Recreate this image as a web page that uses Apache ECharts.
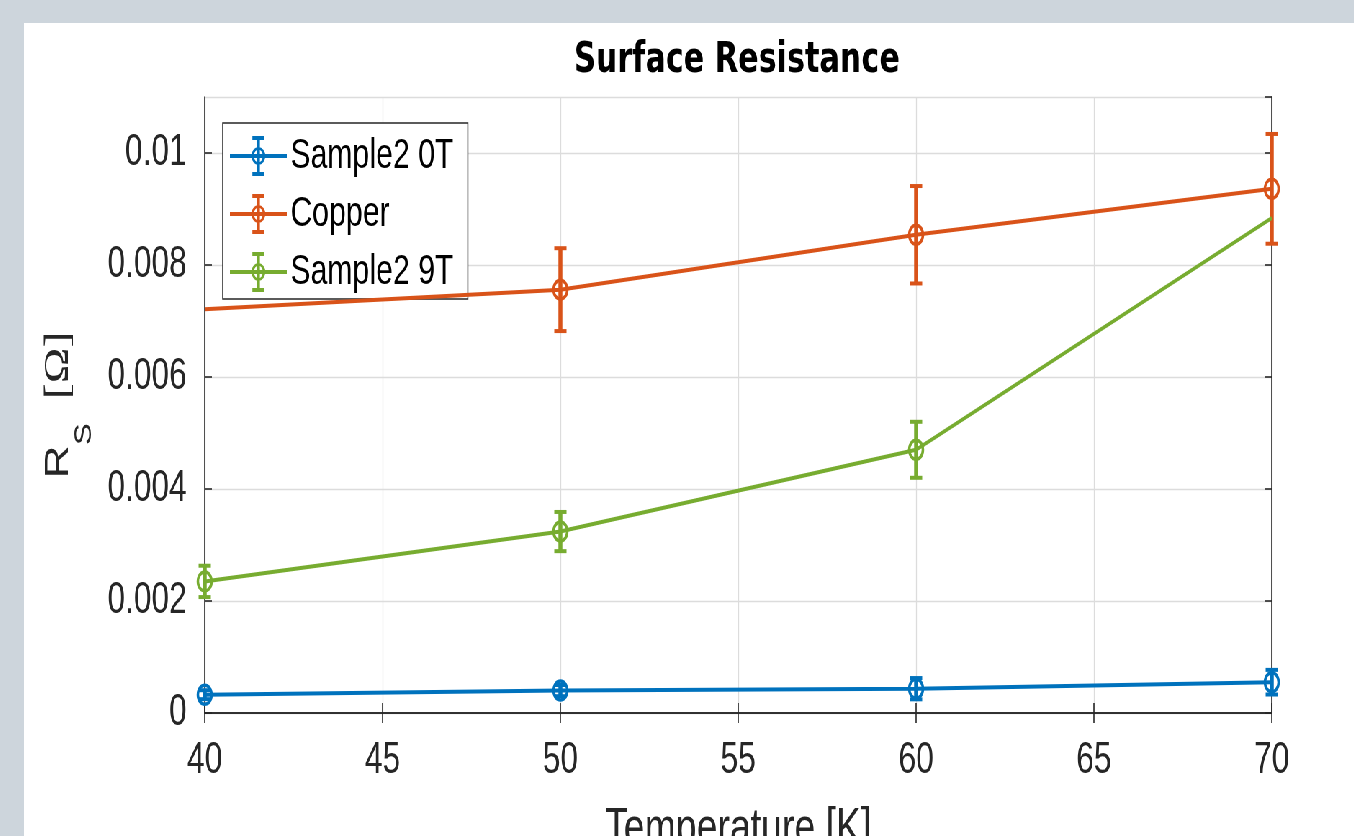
<!DOCTYPE html>
<html>
<head>
<meta charset="utf-8">
<script src="https://cdn.jsdelivr.net/npm/echarts@6/dist/echarts.min.js"></script>
<style>
  html, body { margin: 0; padding: 0; background: #cdd5dc; width: 1354px; height: 836px; overflow: hidden; }
  /* the reference figure is horizontally compressed; draw wide and compress */
  #chart { position: absolute; left: 24px; top: 23px; width: 1847px; height: 813px; background: #ffffff;
           transform: scaleX(0.72); transform-origin: 0 0; }
</style>
</head>
<body>
<div id="chart"></div>
<script>
// ---- data ----
const seriesNames = ['Sample2 0T', 'Copper', 'Sample2 9T'];
const temps = [40, 50, 60, 70];
const sample0TValues = [0.000327, 0.000400, 0.000434, 0.000550];
const sample0TErrors = [0.00008, 0.00010, 0.00019, 0.00022];
const copperValues = [0.00721, 0.00756, 0.00854, 0.00936];
const copperErrors = [null, 0.00074, 0.00087, 0.00098];   // null: no marker at the clipped end
const sample9TValues = [0.00235, 0.00324, 0.00470, 0.00884];
const sample9TErrors = [0.00028, 0.00035, 0.00050, null];
const xTickValues = [40, 45, 50, 55, 60, 65, 70];
const xTickLabels = ['40', '45', '50', '55', '60', '65', '70'];
const yTickValues = [0, 0.002, 0.004, 0.006, 0.008, 0.01];
const yTickLabels = ['0', '0.002', '0.004', '0.006', '0.008', '0.01'];
const colors = ['#0072BD', '#D95319', '#77AC30'];

const sans = "'Liberation Sans', Arial, sans-serif";
const txt = '#262626';

function pickLabel(vals, labels) {
  return function (v) {
    for (let i = 0; i < vals.length; i++) {
      if (Math.abs(vals[i] - v) < 1e-9) return labels[i];
    }
    return '';
  };
}

// legend icon: line + error bar + open marker, in a 79x40 box
const legendIcon = 'path://M0,18L79,18L79,22L0,22Z' +
  'M37.4,2L41.6,2L41.6,38L37.4,38Z' +
  'M31.2,0L47.8,0L47.8,4L31.2,4Z' +
  'M31.2,36L47.8,36L47.8,40L31.2,40Z' +
  'M29.8,20A9.7,9 0 1,1 49.2,20A9.7,9 0 1,1 29.8,20Z' +
  'M33.3,20A6.2,6.5 0 1,0 45.7,20A6.2,6.5 0 1,0 33.3,20Z';

function lineData(vals, errs) {
  return temps.map(function (t, i) {
    const item = { value: [t, vals[i]] };
    if (errs[i] === null) item.symbol = 'none';
    return item;
  });
}
function errData(vals, errs) {
  const out = [];
  temps.forEach(function (t, i) {
    if (errs[i] !== null) out.push([t, vals[i], errs[i]]);
  });
  return out;
}
function errRenderer(color) {
  return function (params, api) {
    const x = api.value(0), y = api.value(1), e = api.value(2);
    const top = api.coord([x, y + e]);
    const bot = api.coord([x, y - e]);
    const hw = 8.5;
    const bar = { stroke: color, lineWidth: 5.5 };
    const cap = { stroke: color, lineWidth: 4 };
    return {
      type: 'group',
      children: [
        { type: 'line', shape: { x1: top[0], y1: top[1], x2: bot[0], y2: bot[1] }, style: bar },
        { type: 'line', shape: { x1: top[0] - hw, y1: top[1], x2: top[0] + hw, y2: top[1] }, style: cap },
        { type: 'line', shape: { x1: bot[0] - hw, y1: bot[1], x2: bot[0] + hw, y2: bot[1] }, style: cap }
      ]
    };
  };
}

const allVals = [sample0TValues, copperValues, sample9TValues];
const allErrs = [sample0TErrors, copperErrors, sample9TErrors];

const series = [];
seriesNames.forEach(function (name, k) {
  series.push({
    name: name,
    type: 'custom',
    xAxisIndex: 0, yAxisIndex: 0,
    renderItem: errRenderer(colors[k]),
    data: errData(allVals[k], allErrs[k]),
    encode: { x: 0, y: 1 },
    z: 3,
    silent: true
  });
});
seriesNames.forEach(function (name, k) {
  series.push({
    name: name,
    type: 'line',
    xAxisIndex: 0, yAxisIndex: 0,
    data: lineData(allVals[k], allErrs[k]),
    symbol: 'circle',
    symbolSize: 19,
    showAllSymbol: true,
    lineStyle: { color: colors[k], width: 4 },
    itemStyle: { color: 'rgba(0,0,0,0)', borderColor: colors[k], borderWidth: 3.5 },
    emphasis: { disabled: true },
    z: 4,
    clip: true,
    animation: false
  });
});

const axisLine = { show: true, lineStyle: { color: txt, width: 1.6 } };
const tickStyle = { show: true, inside: true, length: 10, lineStyle: { color: txt, width: 1.6 } };

const option = {
  animation: false,
  backgroundColor: '#ffffff',
  color: colors,
  title: {
    text: 'Surface Resistance',
    left: 759,
    top: 12,
    textStyle: { fontFamily: "'DejaVu Sans', sans-serif", fontWeight: 'bold', fontSize: 42, color: '#000000' }
  },
  legend: {
    left: 276, top: 100,
    orient: 'vertical',
    backgroundColor: '#ffffff',
    borderColor: txt, borderWidth: 1.5, borderRadius: 0,
    padding: [12, 20, 6, 10],
    itemWidth: 79, itemHeight: 40, itemGap: 16, itemTextGap: 7,
    symbolKeepAspect: false,
    textStyle: { fontFamily: sans, fontSize: 42, color: '#000000', lineHeight: 40 },
    data: seriesNames.map(function (n, k) {
      return { name: n, icon: legendIcon, itemStyle: { color: colors[k], borderWidth: 0 } };
    }),
    selectedMode: false
  },
  grid: { left: 251, top: 74, right: 114, bottom: 123, containLabel: false, outerBoundsMode: 'none' },
  xAxis: [
    {
      type: 'value', min: 40, max: 70, interval: 5,
      name: 'Temperature [K]', nameLocation: 'middle', nameGap: 91, nameMoveOverlap: false,
      nameTextStyle: { fontFamily: sans, fontSize: 52, color: txt },
      axisLine: axisLine, axisTick: tickStyle,
      axisLabel: { fontFamily: sans, fontSize: 44, color: txt, margin: 26, formatter: pickLabel(xTickValues, xTickLabels) },
      splitLine: { show: true, lineStyle: { color: '#dcdcdc', width: 1.3 } }
    },
    {
      type: 'value', min: 40, max: 70, interval: 5, position: 'top',
      axisLine: axisLine, axisTick: tickStyle, axisLabel: { show: false }, splitLine: { show: false }
    }
  ],
  yAxis: [
    {
      type: 'value', min: 0, max: 0.011, interval: 0.002,
      name: '{r|R}{s|S}{b|  [Ω]}', nameLocation: 'middle', nameGap: 178, nameMoveOverlap: false,
      nameTextStyle: {
        color: txt,
        rich: {
          r: { fontFamily: sans, fontSize: 46, lineHeight: 48, color: txt },
          s: { fontFamily: sans, fontSize: 33, lineHeight: 34, padding: [72, 0, 0, 0], color: txt },
          b: { fontFamily: "'Liberation Serif', serif", fontSize: 48, lineHeight: 50, color: txt }
        }
      },
      axisLine: axisLine, axisTick: tickStyle,
      axisLabel: { fontFamily: sans, fontSize: 44, color: txt, margin: 25, showMaxLabel: false, formatter: pickLabel(yTickValues, yTickLabels) },
      splitLine: { show: true, lineStyle: { color: '#dcdcdc', width: 1.3 } }
    },
    {
      type: 'value', min: 0, max: 0.011, interval: 0.002, position: 'right',
      axisLine: axisLine, axisTick: tickStyle, axisLabel: { show: false }, splitLine: { show: false }
    }
  ],
  series: series
};

const chart = echarts.init(document.getElementById('chart'), null, { renderer: 'canvas' });
chart.setOption(option);
</script>
</body>
</html>
